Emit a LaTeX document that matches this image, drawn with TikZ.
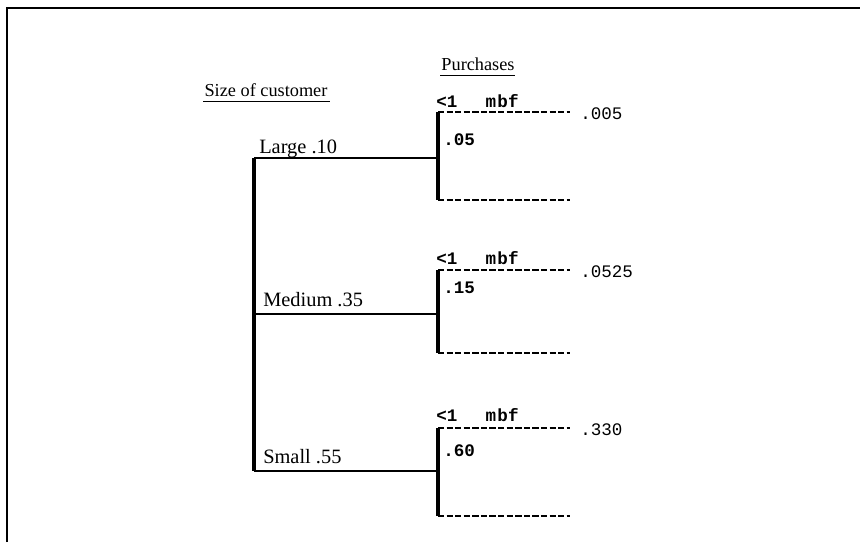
\documentclass[tikz,border=0pt]{standalone}
\usepackage{fontspec}
\setmainfont{Liberation Serif}
\setmonofont{Liberation Mono}
\usetikzlibrary{positioning}

\begin{document}
\begin{tikzpicture}[
  x=0.025cm, y=-0.025cm,
  frame/.style={line width=2pt},
  trunk/.style={line width=2.6pt},
  limb/.style={line width=1.8pt},
  stem/.style={line width=2.6pt},
  twig/.style={line width=1.7pt, dash pattern=on 4.5pt off 1.6pt},
  head/.style={font=\fontsize{13}{15}\selectfont, inner sep=0pt, anchor=base},
  lbl/.style={font=\fontsize{14.5}{16}\selectfont, inner sep=0pt, anchor=base west},
  tw/.style={font=\ttfamily\bfseries\fontsize{12.5}{14}\selectfont, inner sep=0pt,
             anchor=base west},
  twl/.style={tw, font=\ttfamily\fontsize{12.5}{14}\selectfont}
]
\useasboundingbox (0,0) rectangle (860,542);
% open frame: top and left edges only
\draw[frame] (7,542) -- (7,8) -- (860,8);

% column headings
\node[head] (purch) at (478,70) {Purchases};
\node[head] (size)  at (266,96) {Size of customer};
\draw[line width=0.6pt] (440,75) -- (515,75);
\draw[line width=0.6pt] (203,101) -- (330,101);

% first split: size of customer
\coordinate (lg) at (254,158);
\coordinate (md) at (254,314);
\coordinate (sm) at (254,471);
\coordinate (lgj) at (438,158);
\coordinate (mdj) at (438,314);
\coordinate (smj) at (438,471);
\draw[trunk] (lg) -- (sm);
\draw[limb] (lg) -- (lgj);
\draw[limb] (md) -- (mdj);
\draw[limb] (sm) -- (smj);
\node[lbl] (lglbl) at (259,153) {Large .10};
\node[lbl] (mdlbl) at (263,306) {Medium .35};
\node[lbl] (smlbl) at (263,463) {Small .55};

% second split: purchases
\coordinate (lgt) at (438,112);
\coordinate (lgb) at (438,200);
\coordinate (mdt) at (438,270);
\coordinate (mdb) at (438,353);
\coordinate (smt) at (438,428);
\coordinate (smb) at (438,516);
\draw[stem] (lgt) -- (lgb);
\draw[stem] (mdt) -- (mdb);
\draw[stem] (smt) -- (smb);
\draw[twig] (lgt) -- ++(132,0) coordinate (lgte);
\draw[twig] (lgb) -- ++(132,0) coordinate (lgbe);
\draw[twig] (mdt) -- ++(132,0) coordinate (mdte);
\draw[twig] (mdb) -- ++(132,0) coordinate (mdbe);
\draw[twig] (smt) -- ++(132,0) coordinate (smte);
\draw[twig] (smb) -- ++(132,0) coordinate (smbe);

% branch labels
\node[tw] (lgcut) at (436,107) {<1\hspace{1.6em}m\kern1pt bf};
\node[tw] (mdcut) at (436,264) {<1\hspace{1.6em}m\kern1pt bf};
\node[tw] (smcut) at (436,421) {<1\hspace{1.6em}m\kern1pt bf};
\node[tw] (lgp) at (443,145) {.05};
\node[tw] (mdp) at (443,293) {.15};
\node[tw] (smp) at (443,456) {.60};
\node[twl] (lgjp) at (580,119) {.005};
\node[twl] (mdjp) at (580,277) {.0525};
\node[twl] (smjp) at (580,435) {.330};
\end{tikzpicture}
\end{document}
